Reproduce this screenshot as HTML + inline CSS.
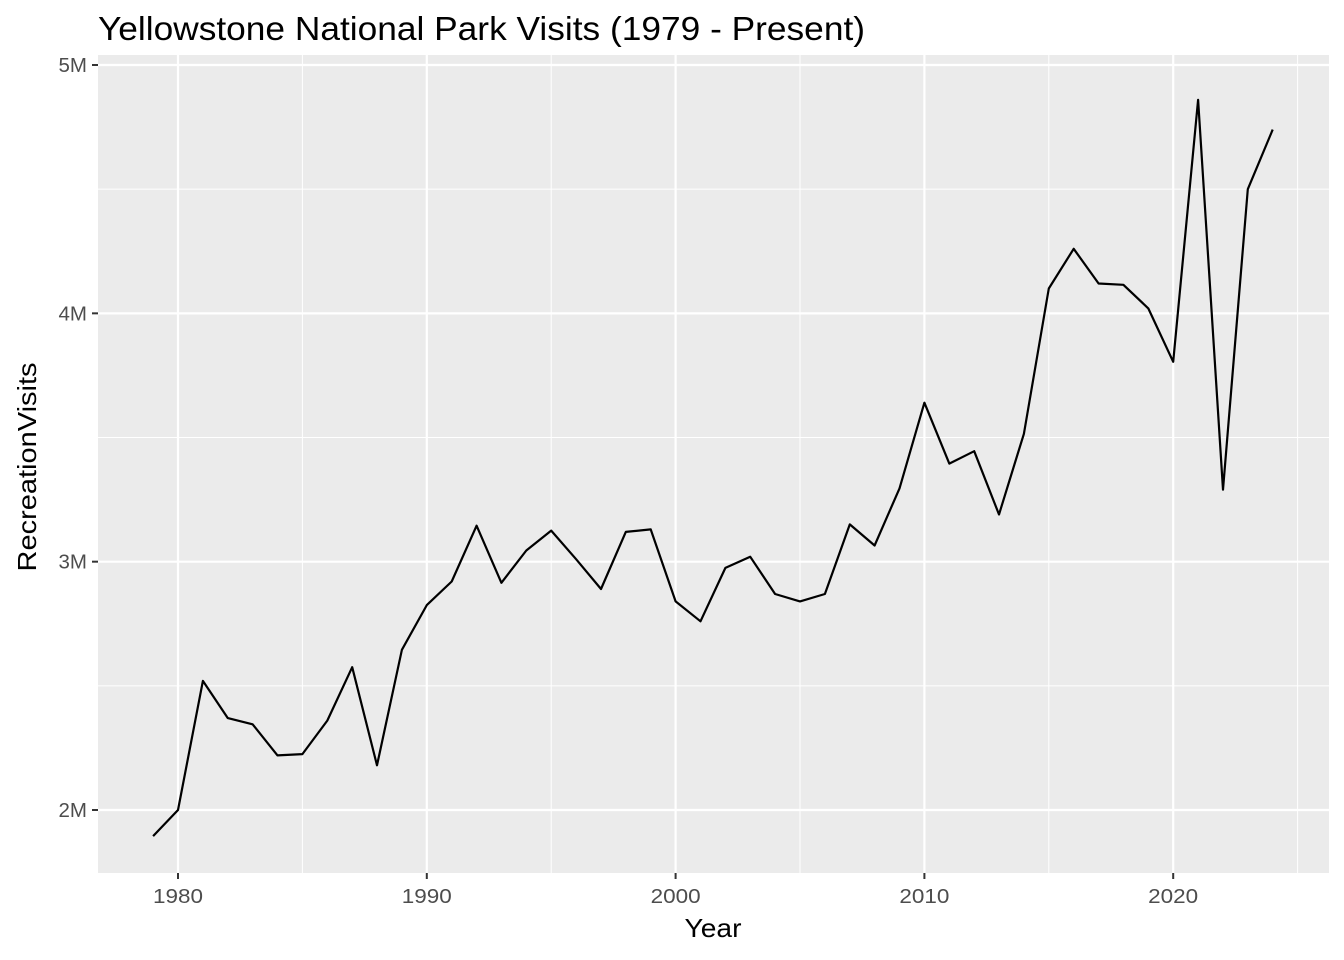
<!DOCTYPE html>
<html><head><meta charset="utf-8"><style>
body{margin:0;background:#fff;}
svg{display:block;font-family:"Liberation Sans",sans-serif;}
</style></head><body>
<svg id="chart" width="1344" height="960">
<text x="98" y="40" font-size="33" textLength="767" lengthAdjust="spacingAndGlyphs" fill="#000">Yellowstone National Park Visits (1979 - Present)</text>
<rect x="98" y="55" width="1231" height="818" fill="#ebebeb"/>
<g id="grid"></g>
<g id="series"></g>
<g id="axes"></g>
<text x="713" y="937" font-size="26" textLength="57" lengthAdjust="spacingAndGlyphs" text-anchor="middle" fill="#000">Year</text>
<text transform="translate(36,467) rotate(-90)" font-size="26" textLength="209" lengthAdjust="spacingAndGlyphs" text-anchor="middle" fill="#000">RecreationVisits</text>
</svg>
<script>
const years=[1979,1980,1981,1982,1983,1984,1985,1986,1987,1988,1989,1990,1991,1992,1993,1994,1995,1996,1997,1998,1999,2000,2001,2002,2003,2004,2005,2006,2007,2008,2009,2010,2011,2012,2013,2014,2015,2016,2017,2018,2019,2020,2021,2022,2023,2024];
const visits=[1.895,2.0,2.52,2.37,2.345,2.22,2.225,2.36,2.575,2.18,2.645,2.825,2.92,3.145,2.915,3.045,3.125,3.01,2.89,3.12,3.13,2.84,2.76,2.975,3.02,2.87,2.84,2.87,3.15,3.065,3.295,3.64,3.395,3.445,3.19,3.515,4.1,4.26,4.12,4.115,4.02,3.805,4.86,3.29,4.5,4.74];
const xTicks=[1980,1990,2000,2010,2020];
const xMinor=[1985,1995,2005,2015,2025];
const yTicks=[2,3,4,5];
const yTickLabels=["2M","3M","4M","5M"];
const yMinor=[2.5,3.5,4.5];
const NS="http://www.w3.org/2000/svg";
function xs(v){return 178+(v-1980)*24.88;}
function ys(v){return 810-(v-2)*248.33;}
function mk(tag,attrs,parent){const e=document.createElementNS(NS,tag);for(const k in attrs)e.setAttribute(k,attrs[k]);parent.appendChild(e);return e;}
const grid=document.getElementById('grid'),axes=document.getElementById('axes'),series=document.getElementById('series');
yMinor.forEach(v=>{const l=mk('line',{x1:98,x2:1329,y1:ys(v),y2:ys(v),stroke:'#fff','stroke-width':1},grid);

});
xMinor.forEach(v=>{const l=mk('line',{x1:xs(v),x2:xs(v),y1:55,y2:873,stroke:'#fff','stroke-width':1},grid);

});
yTicks.forEach((v,i)=>{const l=mk('line',{x1:98,x2:1329,y1:ys(v),y2:ys(v),stroke:'#fff','stroke-width':2.2},grid);


const t=mk('line',{x1:92,x2:98,y1:ys(v),y2:ys(v),stroke:'#333','stroke-width':2},axes);


const tx=mk('text',{x:87,y:ys(v)+7,'font-size':20.5,fill:'#4d4d4d','text-anchor':'end'},axes);tx.textContent=yTickLabels[i];

});
xTicks.forEach(v=>{const l=mk('line',{x1:xs(v),x2:xs(v),y1:55,y2:873,stroke:'#fff','stroke-width':2.2},grid);


const t=mk('line',{x1:xs(v),x2:xs(v),y1:873,y2:879,stroke:'#333','stroke-width':2},axes);


const tx=mk('text',{x:xs(v),y:903,'font-size':20.5,textLength:50,lengthAdjust:'spacingAndGlyphs',fill:'#4d4d4d','text-anchor':'middle'},axes);tx.textContent=v;

});
const pts=years.map((y,i)=>xs(y).toFixed(1)+','+ys(visits[i]).toFixed(1)).join(' ');
const line=mk('polyline',{points:pts,fill:'none',stroke:'#000','stroke-width':2.2,'stroke-linejoin':'round'},series);


</script>
</body></html>
